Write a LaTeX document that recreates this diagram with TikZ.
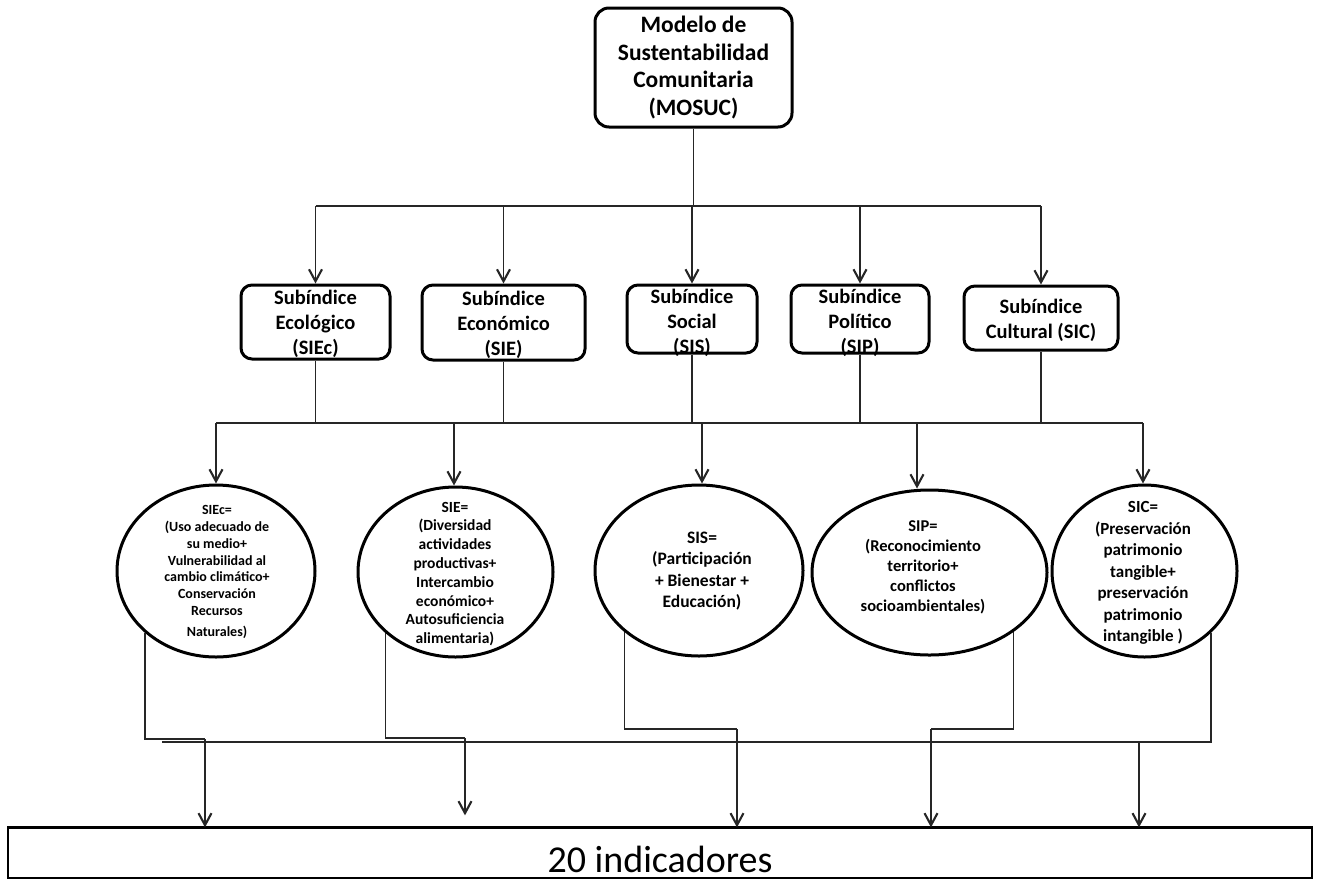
\documentclass[tikz,border=0pt]{standalone}
\usepackage{fontspec}
\setmainfont{Carlito}
\usetikzlibrary{shapes.geometric,arrows.meta,calc}
\begin{document}
\begin{tikzpicture}[x=1pt,y=-1pt,
  conn/.style={line width=1.2pt, draw=black!85},
  arr/.style={conn,-{Straight Barb[length=12pt,width=13pt,line width=2.1pt]}},
  topbox/.style={draw,line width=3pt,rounded corners=14pt,inner sep=0pt,align=center,
                 font=\bfseries\fontsize{23.5}{27.5}\selectfont},
  subbox/.style={draw,line width=3pt,rounded corners=11pt,inner sep=0pt},
  subtext/.style={align=center,inner sep=0pt,font=\bfseries\fontsize{20.5}{25}\selectfont},
  ell/.style={draw,ellipse,line width=3pt,inner sep=0pt},
  etext/.style={align=center,inner sep=0pt},
]
\useasboundingbox[fill=white] (0,0) rectangle (1317,879);

% top node
\node[topbox, minimum width=197pt, minimum height=119pt] (top) at (693.5,67.5)
  {Modelo de\\Sustentabilidad\\Comunitaria\\(MOSUC)};

% sub-index boxes
\node[subbox, minimum width=149pt, minimum height=74pt] (b1) at (315.5,322) {};
\node[subtext] (s1) at (315.5,324) {Subíndice\\Ecológico\\(SIEc)};
\node[subbox, minimum width=163pt, minimum height=75pt] (b2) at (503.5,322.5) {};
\node[subtext] (s2) at (503.5,325) {Subíndice\\Económico\\(SIE)};
\node[subbox, minimum width=130pt, minimum height=68pt] (b3) at (692,319) {};
\node[subtext] (s3) at (692,322.5) {Subíndice\\Social\\(SIS)};
\node[subbox, minimum width=138pt, minimum height=68pt] (b4) at (860,319) {};
\node[subtext] (s4) at (860,322.5) {Subíndice\\Político\\(SIP)};
\node[subbox, minimum width=154pt, minimum height=64pt] (b5) at (1041,318) {};
\node[subtext] (s5) at (1041,320) {Subíndice\\Cultural (SIC)};

% ellipses
\node[ell, minimum width=198pt, minimum height=172pt] (e1) at (216,571) {};
\node[etext, font=\bfseries\fontsize{14}{16.8}\selectfont] (t1) at (217,572)
  {SIEc=\\(Uso adecuado de\\su medio+\\Vulnerabilidad al\\cambio climático+\\Conservación\\Recursos\\[4pt]Naturales)};
\node[ell, minimum width=195pt, minimum height=170pt] (e2) at (455.5,572) {};
\node[etext, font=\bfseries\fontsize{15.5}{18.8}\selectfont] (t2) at (455,574)
  {SIE=\\(Diversidad\\actividades\\productivas+\\Intercambio\\económico+\\Autosuficiencia\\alimentaria)};
\node[ell, minimum width=208pt, minimum height=171pt] (e3) at (699,570.5) {};
\node[etext, font=\bfseries\fontsize{17.5}{21.5}\selectfont] (t3) at (702,571)
  {SIS=\\(Participación\\+ Bienestar +\\Educación)};
\node[ell, minimum width=235pt, minimum height=165pt] (e4) at (929.5,572.5) {};
\node[etext, font=\bfseries\fontsize{16.5}{20}\selectfont] (t4) at (923,567)
  {SIP=\\(Reconocimiento\\territorio+\\conflictos\\socioambientales)};
\node[ell, minimum width=185pt, minimum height=172pt] (e5) at (1144.5,571) {};
\node[etext, font=\bfseries\fontsize{17}{21.5}\selectfont] (t5) at (1143,573)
  {SIC=\\(Preservación\\patrimonio\\tangible+\\preservación\\patrimonio\\intangible )};

% bottom box
\node[draw, line width=1.3pt, minimum width=1304pt, minimum height=50pt, inner sep=0pt] (ind) at (660,853) {};
\node[inner sep=0pt, font=\fontsize{38}{44}\selectfont] (indt) at (660,859) {20 indicadores};
\draw[line width=3.5pt] (ind.north west) -- (ind.north east);

% top level connectors
\coordinate (tb) at (693.5,206);
\draw[conn] (top.south) -- (tb);
\draw[conn] (b1.north |- tb) -- (b5.north |- tb);
\foreach \b in {b1,b2,b3,b4,b5}{
  \draw[arr] (\b.north |- tb) -- (\b.north);
}

% middle connectors
\coordinate (m1) at (216,423);
\coordinate (m2) at (454,423);
\coordinate (m3) at (702,423);
\coordinate (m4) at (917,423);
\coordinate (m5) at (1143,423);
\draw[conn] (m1) -- (m5);
\foreach \b in {b1,b2,b3,b4,b5}{
  \draw[conn] (\b.south) -- (\b.south |- m1);
}
\draw[arr] (m1) -- (m1 |- e1.north);
\draw[arr] (m2) -- (m2 |- e2.north);
\draw[arr] (m3) -- (m3 |- e3.north);
\draw[arr] (m4) -- (m4 |- e4.north);
\draw[arr] (m5) -- (m5 |- e5.north);

% bottom connectors
\coordinate (k1) at (205,739);
\coordinate (k2) at (465,738);
\coordinate (k3) at (737,729);
\coordinate (k4) at (931,729);
\coordinate (k5) at (162,742);
\coordinate (k6) at (1139,742);
\draw[conn] (e1.south west) |- (k1);
\draw[arr] (k1) -- (k1 |- ind.north);
\draw[conn] (e2.south west) |- (k2);
\draw[arr, shorten >=12pt] (k2) -- (k2 |- ind.north);
\draw[conn] (e3.south west) |- (k3);
\draw[arr] (k3) -- (k3 |- ind.north);
\draw[conn] (e4.south east) |- (k4);
\draw[arr] (k4) -- (k4 |- ind.north);
\draw[conn] (e5.south east) |- (k5);
\draw[arr] (k6) -- (k6 |- ind.north);
\end{tikzpicture}
\end{document}
